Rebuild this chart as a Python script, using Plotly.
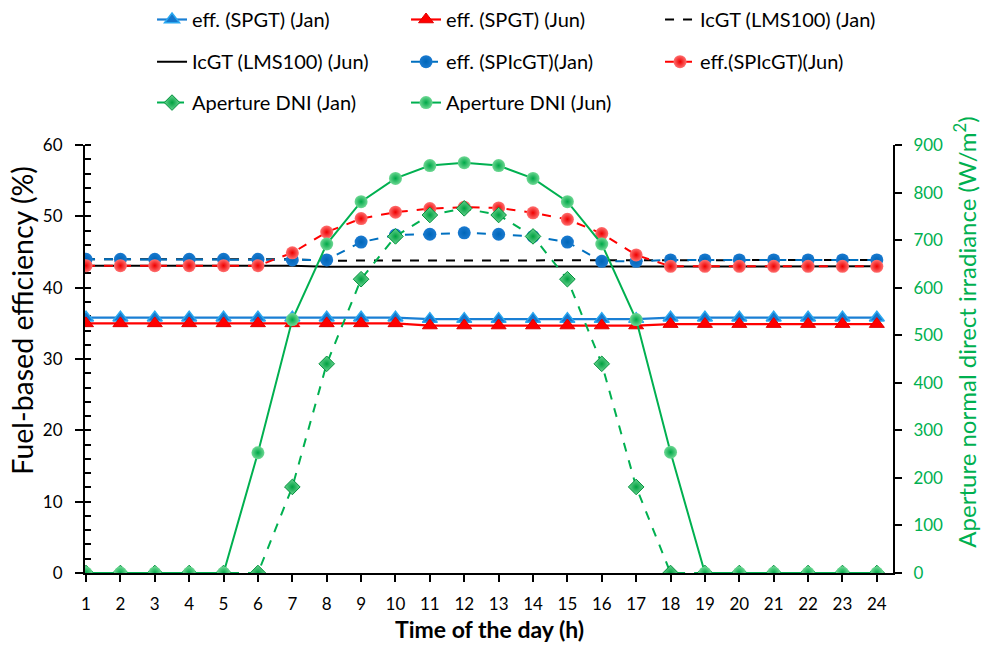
import plotly.graph_objects as go

hours = list(range(1, 25))

spgt_jan = [35.8]*10 + [35.6]*7 + [35.8]*7
spgt_jun = [35.0]*10 + [34.7]*7 + [34.9]*7
lms_jan = [44.0]*7 + [43.8]*11 + [43.9]*6
lms_jun = [43.1]*7 + [42.95]*11 + [43.0]*6
spicgt_jan = [44.0]*6 + [43.9, 43.9, 46.4, 47.4, 47.5, 47.7, 47.5, 47.2, 46.4, 43.7, 43.7] + [43.9]*7
spicgt_jun = [43.1]*6 + [44.9, 47.8, 49.7, 50.6, 51.1, 51.3, 51.2, 50.5, 49.6, 47.6, 44.6] + [43.0]*7
dni_jan = [0]*6 + [181, 440, 618, 708, 753, 767, 753, 708, 618, 440, 181] + [0]*7
dni_jun = [0]*5 + [253, 533, 692, 781, 830, 857, 863, 857, 830, 781, 692, 533, 254] + [0]*6

names = ["eff. (SPGT) (Jan)", "eff. (SPGT) (Jun)", "IcGT (LMS100) (Jan)",
         "IcGT (LMS100) (Jun)", "eff. (SPIcGT)(Jan)", "eff.(SPIcGT)(Jun)",
         "Aperture DNI (Jan)", "Aperture DNI (Jun)"]

x_title = "<b>Time of the day (h)</b>"
y_title = "Fuel-based efficiency (%)"
y2_title = "Aperture normal direct irradiance (W/m<sup>2</sup>)"

FONT = "Lato"
GREEN = "#00B050"
fig = go.Figure()

fig.add_trace(go.Scatter(x=hours, y=spgt_jan, name=names[0], mode="lines+markers",
    line=dict(color="#1A7FD4", width=2.2),
    marker=dict(symbol="triangle-up", size=13, color="#1576CC", line=dict(color="#2AA8F0", width=1.5)),
    legend="legend"))
fig.add_trace(go.Scatter(x=hours, y=spgt_jun, name=names[1], mode="lines+markers",
    line=dict(color="#FF0000", width=2.2),
    marker=dict(symbol="triangle-up", size=13, color="#FF0000", line=dict(color="#E00000", width=1)),
    legend="legend"))
fig.add_trace(go.Scatter(x=hours, y=lms_jan, name=names[2], mode="lines",
    line=dict(color="black", width=2, dash="dash"), legend="legend"))
fig.add_trace(go.Scatter(x=hours, y=lms_jun, name=names[3], mode="lines",
    line=dict(color="black", width=2), legend="legend2"))
fig.add_trace(go.Scatter(x=hours, y=spicgt_jan, name=names[4], mode="lines+markers",
    line=dict(color="#0070C0", width=2, dash="dash"),
    marker=dict(symbol="circle", size=13, color="#1A7AD0", gradient=dict(type="radial", color="#0066B8"), line=dict(width=0)),
    legend="legend2"))
fig.add_trace(go.Scatter(x=hours, y=spicgt_jun, name=names[5], mode="lines+markers",
    line=dict(color="#FF0000", width=2, dash="dash"),
    marker=dict(symbol="circle", size=13, color="#FF7070", gradient=dict(type="radial", color="#EE0000"), line=dict(width=0)),
    legend="legend2"))
fig.add_trace(go.Scatter(x=hours, y=dni_jan, name=names[6], mode="lines+markers", yaxis="y2",
    line=dict(color=GREEN, width=2, dash="dash"),
    marker=dict(symbol="diamond", size=12, color="#6AD492", gradient=dict(type="radial", color="#00A040"), line=dict(color="#00903A", width=1)),
    legend="legend3"))
fig.add_trace(go.Scatter(x=hours, y=dni_jun, name=names[7], mode="lines+markers", yaxis="y2",
    line=dict(color=GREEN, width=2),
    marker=dict(symbol="circle", size=13, color="#6FD894", gradient=dict(type="radial", color="#00A848"), line=dict(width=0)),
    legend="legend3"))

leg_common = dict(orientation="h", xref="container", yref="container", xanchor="left", yanchor="top",
                  font=dict(family=FONT, size=20, color="black"), bgcolor="rgba(0,0,0,0)",
                  entrywidth=209, entrywidthmode="pixels", itemwidth=30, tracegroupgap=0)

L, R, T, B = 85, 893, 144, 573
def px_x(px):
    return (px - L) / (R - L)
def px_y(py):
    return (B - py) / (B - T)

fig.update_layout(
    width=984, height=649,
    margin=dict(l=L, r=984 - R, t=T, b=649 - B),
    paper_bgcolor="white", plot_bgcolor="white",
    font=dict(family=FONT, size=17, color="black"),
    legend=dict(x=0.1545, y=1.0, **leg_common),
    legend2=dict(x=0.1545, y=0.935, **leg_common),
    legend3=dict(x=0.1545, y=0.872, **leg_common),
    xaxis=dict(range=[0.97, 24.47], tickmode="array", tickvals=hours, ticktext=[str(h) for h in hours],
               showline=True, linecolor="black", linewidth=2, ticks="outside", ticklen=7, tickwidth=2,
               tickcolor="black", showgrid=False, zeroline=False, layer="below traces",
               ticklabelstandoff=8,
               tickfont=dict(family=FONT, size=17, color="black")),
    yaxis=dict(range=[0, 60], dtick=10, showline=True, linecolor="black", linewidth=2,
               ticks="outside", ticklen=8, tickwidth=2, tickcolor="black", showgrid=False, zeroline=False,
               layer="below traces", ticklabelstandoff=9,
               minor=dict(dtick=2, ticks="inside", ticklen=6, tickwidth=2, tickcolor="black"),
               tickfont=dict(family=FONT, size=17, color="black")),
    yaxis2=dict(range=[0, 900], dtick=100, overlaying="y", side="right", anchor="x",
                showline=True, linecolor="black", linewidth=2, ticks="outside", ticklen=7, tickwidth=2,
                tickcolor="black", showgrid=False, zeroline=False, ticklabelstandoff=8,
                tickfont=dict(family=FONT, size=17, color=GREEN)),
    annotations=[
        dict(text=x_title, xref="paper", yref="paper", x=px_x(489), y=px_y(629), xanchor="center", yanchor="middle",
             showarrow=False, font=dict(family=FONT, size=23, color="black")),
        dict(text=y_title, xref="paper", yref="paper", x=px_x(22), y=px_y(320), xanchor="center", yanchor="middle",
             textangle=-90, showarrow=False, font=dict(family=FONT, size=28.5, color="black")),
        dict(text=y2_title, xref="paper", yref="paper", x=px_x(965), y=px_y(332), xanchor="center", yanchor="middle",
             textangle=-90, showarrow=False, font=dict(family=FONT, size=24, color=GREEN)),
    ],
)

fig.write_html("out.html")
